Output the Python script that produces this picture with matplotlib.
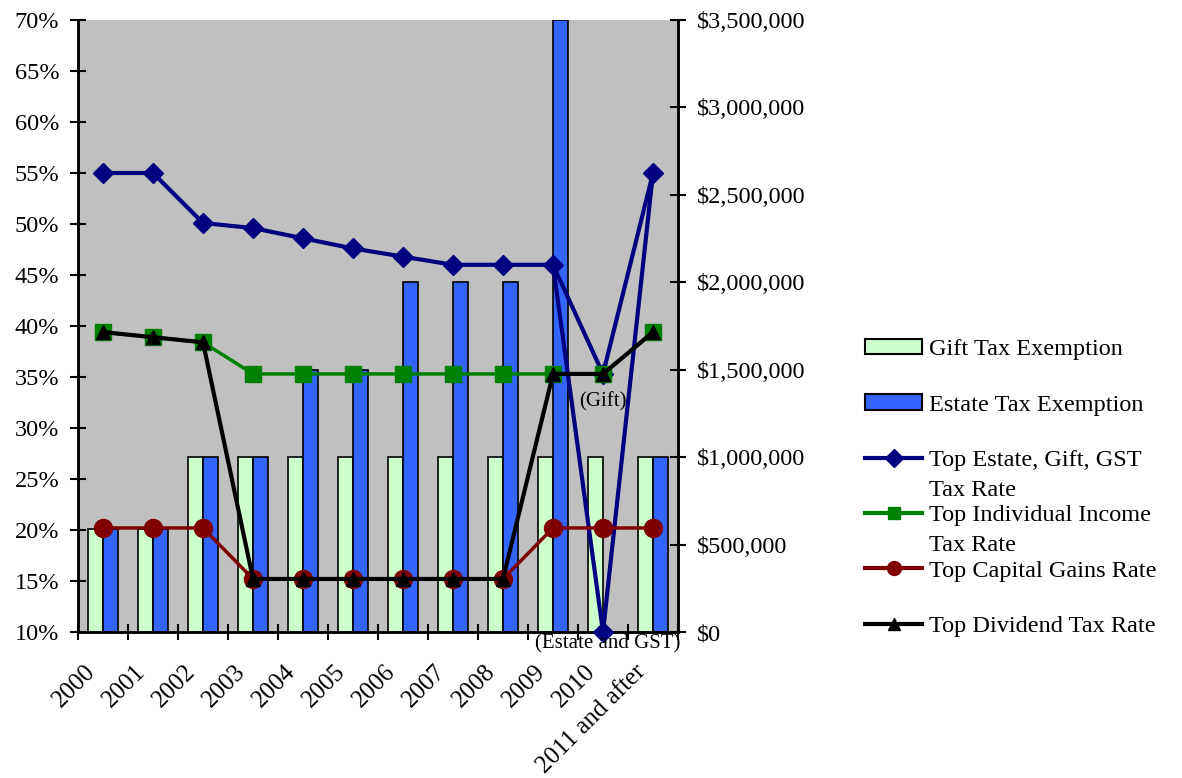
import numpy as np
import matplotlib
matplotlib.use('Agg')
import matplotlib.pyplot as plt
from matplotlib.patches import Patch
from matplotlib.lines import Line2D
from matplotlib.ticker import FuncFormatter, MultipleLocator

plt.rcParams['font.family'] = 'Liberation Serif'
plt.rcParams['font.size'] = 17.5

# data
years = ['2000', '2001', '2002', '2003', '2004', '2005', '2006', '2007',
         '2008', '2009', '2010', '2011 and after']
gift_exempt = [590000, 590000, 1000000, 1000000, 1000000, 1000000, 1000000,
               1000000, 1000000, 1000000, 1000000, 1000000]
estate_exempt = [590000, 590000, 1000000, 1000000, 1500000, 1500000, 2000000,
                 2000000, 2000000, 3500000, 0, 1000000]
estate_rate = [55, 55, 50.1, 49.6, 48.6, 47.6, 46.8, 46.0, 46.0, 46.0, 35.3, 55]
estate_gst_2010 = 10  # repealed for estate and GST (shown at axis floor)
income_rate = [39.4, 38.9, 38.4, 35.3, 35.3, 35.3, 35.3, 35.3, 35.3, 35.3, 35.3, 39.4]
capgains_rate = [20.2, 20.2, 20.2, 15.2, 15.2, 15.2, 15.2, 15.2, 15.2, 20.2, 20.2, 20.2]
dividend_rate = [39.4, 38.9, 38.4, 15.2, 15.2, 15.2, 15.2, 15.2, 15.2, 35.3, 35.3, 39.4]

x = np.arange(len(years))

fig = plt.figure(figsize=(11.82, 7.78), dpi=100)
ax = fig.add_axes([78 / 1182, 1 - 632 / 778, 600 / 1182, 612 / 778])
ax.set_facecolor('#C0C0C0')

# bars on the dollar axis (right side)
ax.bar(x - 0.15, gift_exempt, 0.3, color='#CCFFCC', edgecolor='black', linewidth=1.2)
ax.bar(x + 0.15, estate_exempt, 0.3, color='#3366FF', edgecolor='black', linewidth=1.2)
ax.set_ylim(0, 3500000)

# rate lines on the percent axis (left side)
ax2 = ax.twinx()
ax.yaxis.tick_right()
ax.yaxis.set_major_locator(MultipleLocator(500000))
ax.yaxis.set_major_formatter(FuncFormatter(lambda v, p: '${:,.0f}'.format(v)))
ax2.yaxis.tick_left()

ax2.plot(x, estate_rate, color='#000080', lw=3, marker='D', ms=10, zorder=3)
ax2.plot(x[9:], [estate_rate[9], estate_gst_2010, estate_rate[11]], color='#000080',
         lw=3, marker='D', ms=10, markevery=[1], zorder=3, clip_on=False)
ax2.plot(x, income_rate, color='#008000', lw=2.5, marker='s', ms=11, zorder=4)
ax2.plot(x, capgains_rate, color='#800000', lw=2.5, marker='o', ms=13, zorder=5)
ax2.plot(x, dividend_rate, color='black', lw=3, marker='^', ms=10, zorder=6)
ax2.set_ylim(10, 70)
ax2.yaxis.set_major_locator(MultipleLocator(5))
ax2.yaxis.set_major_formatter(FuncFormatter(lambda v, p: '{:.0f}%'.format(v)))

ax2.text(10, 33.5, '(Gift)', ha='center', va='top', fontsize=15)
ax2.text(10.1, 9.8, '(Estate and GST)', ha='center', va='top', fontsize=15, clip_on=False)

# category labels sit a little left of the category centres, as in the original
ax.set_xlim(-0.5, len(years) - 0.5)
ax.set_xticks(x - 0.22)
ax.set_xticklabels(years, rotation=45, ha='right', va='center', rotation_mode='anchor',
                   fontsize=18)
ax.set_xticks(np.arange(-0.5, len(years)), minor=True)
ax.tick_params(axis='x', which='major', length=0, pad=26)
ax.tick_params(axis='x', which='minor', direction='inout', length=11, width=1.5)
ax.tick_params(axis='y', direction='inout', length=11, width=1.5, pad=8)
ax2.tick_params(axis='y', direction='inout', length=11, width=1.5, pad=8)

for a in (ax, ax2):
    a.spines['top'].set_visible(False)
    for s in ('left', 'right', 'bottom'):
        a.spines[s].set_linewidth(1.8)

handles = [
    Patch(facecolor='#CCFFCC', edgecolor='black', linewidth=1.5),
    Patch(facecolor='#3366FF', edgecolor='black', linewidth=1.5),
    Line2D([], [], color='#000080', lw=3, marker='D', ms=9),
    Line2D([], [], color='#008000', lw=3, marker='s', ms=9),
    Line2D([], [], color='#800000', lw=3, marker='o', ms=10),
    Line2D([], [], color='black', lw=3, marker='^', ms=8),
]
labels = ['Gift Tax Exemption', 'Estate Tax Exemption', 'Top Estate, Gift, GST',
          'Top Individual Income', 'Top Capital Gains Rate', 'Top Dividend Tax Rate']
leg = fig.legend(handles, labels, loc='upper left', bbox_to_anchor=(865 / 1182, 1 - 339 / 778),
                 frameon=False, borderpad=0, borderaxespad=0, handlelength=2.35,
                 handleheight=0.6, handletextpad=0.3, labelspacing=1.4)

# second line of the two wrapped legend labels
fig.canvas.draw()
inv = fig.transFigure.inverted()
for i in (2, 3):
    bb = leg.get_texts()[i].get_window_extent()
    x0, yc = inv.transform((bb.x0, (bb.y0 + bb.y1) / 2))
    fig.text(x0, yc - 30 / 778, 'Tax Rate', ha='left', va='center')

fig.savefig('out.png', dpi=100)
